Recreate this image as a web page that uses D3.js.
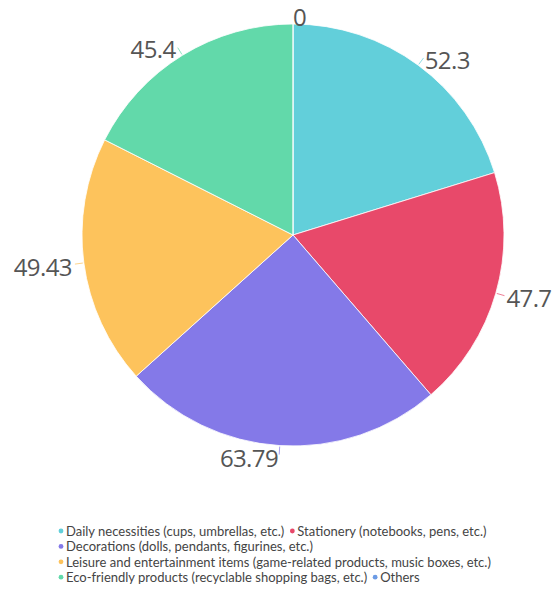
<!DOCTYPE html>
<html>
<head>
<meta charset="utf-8">
<script src="https://cdn.jsdelivr.net/npm/d3@7"></script>
<style>
html,body{margin:0;padding:0;background:#fff;}
svg{display:block;}
</style>
</head>
<body>
<svg id="chart" width="558" height="590"></svg>
<script>
const categories = [
  "Daily necessities (cups, umbrellas, etc.)",
  "Stationery (notebooks, pens, etc.)",
  "Decorations (dolls, pendants, figurines, etc.)",
  "Leisure and entertainment items (game-related products, music boxes, etc.)",
  "Eco-friendly products (recyclable shopping bags, etc.)",
  "Others"
];
const values = [52.3, 47.7, 63.79, 49.43, 45.4, 0];
const labels = ["52.3", "47.7", "63.79", "49.43", "45.4", "0"];
const colors = ["#62CFDA", "#E8496A", "#8479E8", "#FDC35C", "#62D9AA", "#6C9BE5"];

const svg = d3.select("#chart");
const cx = 293, cy = 235, R = 211;
const data = categories.map((c, i) => ({name: c, value: values[i], label: labels[i], color: colors[i]}));

const pie = d3.pie().value(d => d.value).sort(null).startAngle(0).endAngle(2 * Math.PI);
const arcs = pie(data);
const arc = d3.arc().innerRadius(0).outerRadius(R);

const g = svg.append("g").attr("transform", `translate(${cx},${cy})`);
g.selectAll("path.slice").data(arcs).join("path")
  .attr("class", "slice")
  .attr("d", arc)
  .attr("fill", d => d.data.color)
  .attr("stroke", "#fff")
  .attr("stroke-width", d => d.data.value > 0 ? 1 : 0.6)
  .attr("stroke-opacity", 0.8);

const mid = d => (d.startAngle + d.endAngle) / 2;
g.selectAll("line.leader").data(arcs.filter(d => d.data.value > 0)).join("line")
  .attr("class", "leader")
  .attr("x1", d => (R + 1) * Math.sin(mid(d)))
  .attr("y1", d => -(R + 1) * Math.cos(mid(d)))
  .attr("x2", d => (R + 9) * Math.sin(mid(d)))
  .attr("y2", d => -(R + 9) * Math.cos(mid(d)))
  .attr("stroke", d => d.data.color)
  .attr("stroke-width", 1)
  .attr("opacity", 0.7);

g.selectAll("text.lbl").data(arcs).join("text")
  .attr("class", "lbl")
  .attr("x", d => (R + 11) * Math.sin(mid(d)) + (Math.sin(mid(d)) > -1e-6 ? 0 : -1))
  .attr("y", d => -(R + 10) * Math.cos(mid(d)) + 2)
  .attr("text-anchor", d => Math.sin(mid(d)) > -1e-6 ? "start" : "end")
  .attr("dominant-baseline", "central")
  .attr("font-family", "'Open Sans', sans-serif")
  .attr("font-size", 24)
  .attr("letter-spacing", "-0.6px")
  .attr("fill", "#555")
  .text(d => d.data.label);

// Legend (flow layout)
const legendX = 58, legendTop = 531, rowH = 15.4, maxW = 445;
const lg = svg.append("g");
let x = legendX, row = 0;
data.forEach(d => {
  const item = lg.append("g");
  item.append("circle").attr("cx", 3).attr("cy", 0).attr("r", 2.4).attr("fill", d.color);
  const t = item.append("text").attr("x", 8).attr("y", 0)
    .attr("dominant-baseline", "central")
    .attr("font-family", "Lato, 'Open Sans', sans-serif")
    .attr("font-size", 13)
    .attr("fill", "#444")
    .text(d.name);
  const w = 8 + t.node().getComputedTextLength();
  if (x > legendX && x + w > legendX + maxW) { row++; x = legendX; }
  item.attr("transform", `translate(${x},${legendTop + row * rowH})`);
  x += w + 5;
});
</script>
</body>
</html>
